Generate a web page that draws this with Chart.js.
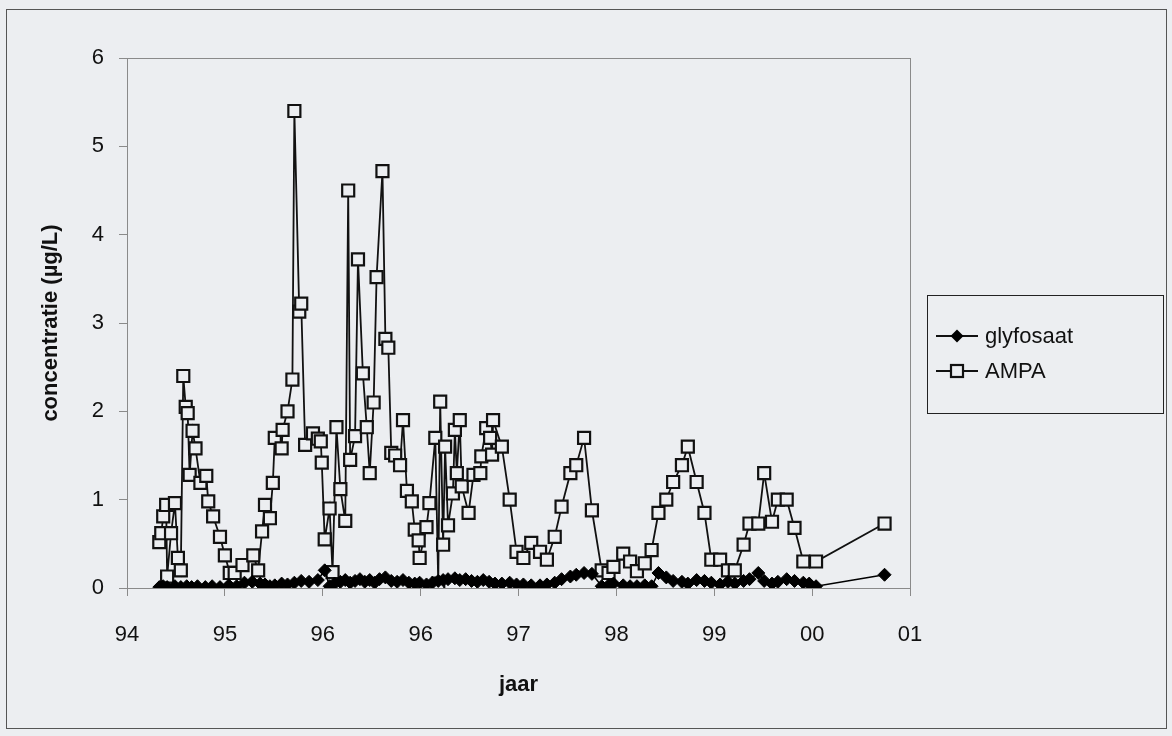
<!DOCTYPE html>
<html>
<head>
<meta charset="utf-8">
<script src="https://cdn.jsdelivr.net/npm/chart.js@4"></script>
<style>
  html, body { margin: 0; padding: 0; background: #eceef1; }
</style>
</head>
<body>
<canvas id="myChart" width="1172" height="736"></canvas>
<script>
// tick labels as printed on the date axis (Excel 365-day steps, so "96" twice)
const xLabels = ["94", "95", "96", "96", "97", "98", "99", "00", "01"];
const yTicks = [0, 1, 2, 3, 4, 5, 6];

// AMPA (x in axis units, 94 = first tick)
const ampaJaar = [
  94.33, 94.35, 94.37, 94.40, 94.41, 94.45, 94.49, 94.52, 94.55, 94.575,
  94.60, 94.62, 94.64, 94.67, 94.70, 94.75, 94.81, 94.83, 94.88, 94.95,
  95.00, 95.05, 95.10, 95.18, 95.29, 95.34, 95.38, 95.41, 95.46, 95.49,
  95.51, 95.58, 95.59, 95.64, 95.69, 95.71, 95.76, 95.78, 95.82, 95.90,
  95.95, 95.98, 95.99, 96.02, 96.07, 96.10, 96.14, 96.18, 96.23, 96.26,
  96.28, 96.33, 96.36, 96.41, 96.45, 96.48, 96.52, 96.55, 96.61, 96.64,
  96.67, 96.70, 96.74, 96.79, 96.82, 96.86, 96.91, 96.94, 96.98, 96.99,
  97.06, 97.09, 97.15, 97.18, 97.20, 97.23, 97.25, 97.28, 97.33, 97.35,
  97.37, 97.40, 97.42, 97.49, 97.54, 97.61, 97.62, 97.67, 97.71, 97.73,
  97.74, 97.83, 97.91, 97.98, 98.05, 98.13, 98.22, 98.29, 98.37, 98.44,
  98.53, 98.59, 98.67, 98.75, 98.85, 98.92, 98.97, 99.07, 99.14, 99.21,
  99.29, 99.36, 99.43, 99.51, 99.58, 99.67, 99.73, 99.82, 99.90, 99.97,
  100.06, 100.14, 100.21, 100.30, 100.36, 100.45, 100.51, 100.59, 100.65, 100.74,
  100.82, 100.91, 101.04, 101.74
];
const ampaConc = [
  0.52, 0.62, 0.81, 0.94, 0.13, 0.62, 0.96, 0.34, 0.20, 2.40,
  2.05, 1.98, 1.28, 1.78, 1.58, 1.19, 1.27, 0.98, 0.81, 0.58,
  0.37, 0.17, 0.17, 0.26, 0.37, 0.20, 0.64, 0.94, 0.79, 1.19,
  1.70, 1.58, 1.79, 2.00, 2.36, 5.40, 3.13, 3.22, 1.62, 1.75,
  1.69, 1.66, 1.42, 0.55, 0.90, 0.18, 1.82, 1.12, 0.76, 4.50,
  1.45, 1.72, 3.72, 2.43, 1.82, 1.30, 2.10, 3.52, 4.72, 2.82,
  2.72, 1.53, 1.50, 1.39, 1.90, 1.10, 0.98, 0.66, 0.54, 0.34,
  0.69, 0.96, 1.70, 0.05, 2.11, 0.49, 1.60, 0.71, 1.07, 1.79,
  1.30, 1.90, 1.15, 0.85, 1.28, 1.30, 1.49, 1.81, 1.70, 1.51,
  1.90, 1.60, 1.00, 0.41, 0.34, 0.51, 0.41, 0.32, 0.58, 0.92,
  1.30, 1.39, 1.70, 0.88, 0.20, 0.17, 0.24, 0.39, 0.30, 0.19,
  0.28, 0.43, 0.85, 1.00, 1.20, 1.39, 1.60, 1.20, 0.85, 0.32,
  0.32, 0.20, 0.20, 0.49, 0.73, 0.73, 1.30, 0.75, 1.00, 1.00,
  0.68, 0.30, 0.30, 0.73
];

// glyfosaat
const glyJaar = [
  94.33, 94.37, 94.41, 94.49, 94.55, 94.61, 94.66, 94.72, 94.80, 94.87,
  94.95, 95.04, 95.12, 95.20, 95.28, 95.36, 95.41, 95.46, 95.51, 95.58,
  95.64, 95.71, 95.78, 95.86, 95.95, 96.02, 96.07, 96.12, 96.18, 96.23,
  96.28, 96.33, 96.38, 96.43, 96.48, 96.53, 96.58, 96.64, 96.70, 96.76,
  96.82, 96.88, 96.94, 96.99, 97.06, 97.12, 97.18, 97.23, 97.28, 97.35,
  97.40, 97.46, 97.52, 97.58, 97.64, 97.70, 97.76, 97.83, 97.91, 97.98,
  98.05, 98.13, 98.22, 98.29, 98.37, 98.44, 98.53, 98.59, 98.67, 98.75,
  98.85, 98.92, 98.97, 99.07, 99.14, 99.21, 99.29, 99.36, 99.43, 99.51,
  99.58, 99.67, 99.73, 99.82, 99.90, 99.97, 100.06, 100.14, 100.21, 100.30,
  100.36, 100.45, 100.51, 100.59, 100.65, 100.74, 100.82, 100.91, 100.97, 101.04,
  101.74
];
const glyConc = [
  0.01, 0.02, 0.01, 0.02, 0.01, 0.02, 0.01, 0.02, 0.01, 0.02,
  0.01, 0.03, 0.02, 0.06, 0.07, 0.05, 0.04, 0.02, 0.03, 0.05,
  0.04, 0.06, 0.08, 0.07, 0.09, 0.20, 0.02, 0.05, 0.07, 0.09,
  0.06, 0.08, 0.10, 0.07, 0.09, 0.06, 0.10, 0.12, 0.08, 0.07,
  0.09, 0.06, 0.05, 0.06, 0.04, 0.06, 0.08, 0.09, 0.10, 0.11,
  0.09, 0.10, 0.08, 0.07, 0.09, 0.07, 0.05, 0.05, 0.06, 0.04,
  0.04, 0.03, 0.03, 0.04, 0.06, 0.10, 0.13, 0.15, 0.17, 0.16,
  0.02, 0.03, 0.05, 0.03, 0.02, 0.02, 0.03, 0.02, 0.17, 0.12,
  0.08, 0.07, 0.05, 0.09, 0.08, 0.06, 0.04, 0.07, 0.05, 0.08,
  0.10, 0.17, 0.08, 0.05, 0.07, 0.10, 0.08, 0.06, 0.05, 0.02,
  0.15
];

const paper = "#eceef1";
const ink = "#111111";
const axisGray = "#8a8a8a";

Chart.defaults.font.family = "Arial, 'Liberation Sans', sans-serif";
Chart.defaults.font.size = 22;
Chart.defaults.color = ink;

// outer frame, plot frame and the legend box
const framePlugin = {
  id: "frame",
  beforeDatasetsDraw(chart) {
    const { ctx, chartArea: a } = chart;
    ctx.save();
    ctx.strokeStyle = axisGray;
    ctx.lineWidth = 1;
    ctx.strokeRect(a.left + 0.5, a.top + 0.5, a.right - a.left, a.bottom - a.top);
    ctx.restore();
  },
  afterDraw(chart) {
    const ctx = chart.ctx;
    ctx.save();
    ctx.strokeStyle = "#555";
    ctx.lineWidth = 1;
    ctx.strokeRect(6.5, 9.5, 1160, 719);

    // legend
    const lx = 927, ly = 295, lw = 236, lh = 118;
    ctx.strokeStyle = "#222";
    ctx.strokeRect(lx + 0.5, ly + 0.5, lw, lh);
    chart.data.datasets.forEach((ds, i) => {
      const y = ly + 41 + i * 35;
      ctx.strokeStyle = ink;
      ctx.lineWidth = 1.8;
      ctx.beginPath();
      ctx.moveTo(lx + 9, y);
      ctx.lineTo(lx + 51, y);
      ctx.stroke();
      const cx = lx + 30;
      if (ds.pointStyle === "rect") {
        ctx.fillStyle = paper;
        ctx.lineWidth = 2.2;
        ctx.fillRect(cx - 6, y - 6, 12, 12);
        ctx.strokeRect(cx - 6, y - 6, 12, 12);
      } else {
        ctx.fillStyle = "#000";
        ctx.beginPath();
        ctx.moveTo(cx, y - 6.5);
        ctx.lineTo(cx + 6.5, y);
        ctx.lineTo(cx, y + 6.5);
        ctx.lineTo(cx - 6.5, y);
        ctx.closePath();
        ctx.fill();
      }
      ctx.fillStyle = ink;
      ctx.font = "22px Arial, 'Liberation Sans', sans-serif";
      ctx.textBaseline = "middle";
      ctx.textAlign = "left";
      ctx.fillText(ds.label, lx + 58, y + 1);
    });
    ctx.restore();
  }
};

const ctx = document.getElementById("myChart");
const myChart = new Chart(ctx, {
  type: "scatter",
  data: {
    datasets: [
      {
        label: "glyfosaat",
        data: glyJaar.map((x, i) => ({ x: x, y: glyConc[i] })),
        showLine: true,
        borderColor: "#000",
        borderWidth: 1.6,
        pointStyle: "rectRot",
        pointRadius: 6.5,
        pointBackgroundColor: "#000",
        pointBorderColor: "#000",
        pointBorderWidth: 1,
      },
      {
        label: "AMPA",
        data: ampaJaar.map((x, i) => ({ x: x, y: ampaConc[i] })),
        showLine: true,
        borderColor: ink,
        borderWidth: 1.8,
        pointStyle: "rect",
        pointRadius: 8.5,
        pointBackgroundColor: paper,
        pointBorderColor: ink,
        pointBorderWidth: 2.2,
      },
    ],
  },
  options: {
    responsive: false,
    animation: false,
    events: [],
    layout: { padding: { left: 0, top: 58, right: 262, bottom: 0 } },
    plugins: { legend: { display: false }, tooltip: { enabled: false } },
    scales: {
      x: {
        type: "linear",
        min: 94,
        max: 102,
        afterBuildTicks: (s) => {
          s.ticks = xLabels.map((_, i) => ({ value: 94 + i }));
        },
        afterFit: (s) => {
          s.height = 148;
        },
        ticks: {
          callback: (v, i) => xLabels[i],
          padding: 26,
          maxRotation: 0,
          autoSkip: false,
        },
        grid: { drawOnChartArea: false, drawTicks: true, tickLength: 8, color: axisGray },
        border: { display: true, color: axisGray, width: 1 },
        title: {
          display: true,
          text: "jaar",
          font: { size: 22, weight: "bold" },
          padding: { top: 0, bottom: 38 },
        },
      },
      y: {
        min: 0,
        max: 6,
        afterBuildTicks: (s) => {
          s.ticks = yTicks.map((v) => ({ value: v }));
        },
        afterFit: (s) => {
          s.width = 127;
        },
        ticks: { padding: 15 },
        grid: { drawOnChartArea: false, drawTicks: true, tickLength: 8, color: axisGray },
        border: { display: true, color: axisGray, width: 1 },
        title: {
          display: true,
          text: "concentratie (µg/L)",
          font: { size: 22, weight: "bold" },
          padding: { top: 38, bottom: 0 },
        },
      },
    },
  },
  plugins: [framePlugin],
});
</script>
</body>
</html>
